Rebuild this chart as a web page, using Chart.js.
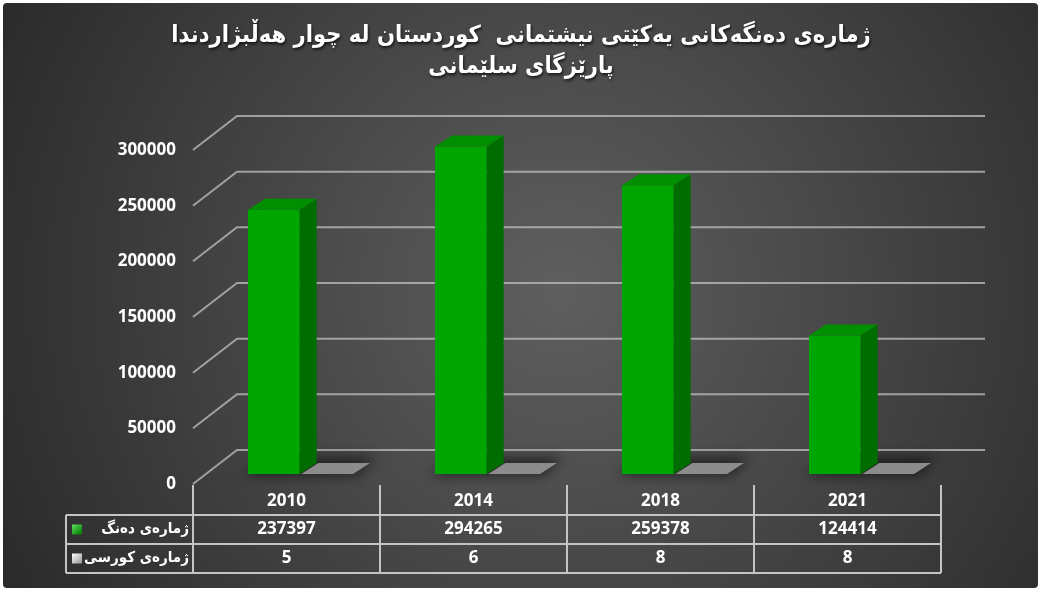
<!DOCTYPE html>
<html>
<head>
<meta charset="utf-8">
<script src="https://cdn.jsdelivr.net/npm/chart.js@4.4.1/dist/chart.umd.min.js"></script>
<style>
  html, body { margin: 0; padding: 0; background: #fff; }
  #wrap { width: 1042px; height: 592px; }
</style>
</head>
<body>
<div id="wrap"><canvas id="c" width="1042" height="592"></canvas></div>
<script>
// ── Data ─────────────────────────────────────────────────────
const titleLines  = ['ژمارەی دەنگەکانی یەکێتی نیشتمانی  کوردستان لە چوار هەڵبژاردندا', 'پارێزگای سلێمانی'];
const years       = ['2010', '2014', '2018', '2021'];
const votes       = [237397, 294265, 259378, 124414];
const seats       = [5, 6, 8, 8];
const seriesNames = ['ژمارەی دەنگ', 'ژمارەی کورسی'];
const yTicks      = [0, 50000, 100000, 150000, 200000, 250000, 300000];

// ── 3D look ──────────────────────────────────────────────────
const FRONT = { dx: -14, dy: 10 };   // bar plane -> front plane
const BACK  = { dx: 30,  dy: -24 };  // bar plane -> back wall
const DEPTH = { dx: 17,  dy: -11 };  // bar extrusion
const GRID  = 'rgba(185,185,185,0.8)';
const NUM_FONT = 'bold 17px "Open Sans", sans-serif';
const AR_FONT  = 'bold 15px "DejaVu Sans Condensed", "DejaVu Sans", sans-serif';

const faces = [
  { side: '#006d00', top: '#008f00' },
  { side: '#6e6e6e', top: '#8c8c8c' },
];

function poly(ctx, pts, fill) {
  ctx.beginPath();
  ctx.moveTo(pts[0][0], pts[0][1]);
  for (let i = 1; i < pts.length; i++) ctx.lineTo(pts[i][0], pts[i][1]);
  ctx.closePath();
  ctx.fillStyle = fill;
  ctx.fill();
}

const scene = {
  id: 'scene',
  beforeDraw(chart) {
    const { ctx, width, height, chartArea: a } = chart;
    const y = chart.scales.y;
    ctx.save();
    ctx.fillStyle = '#fff';
    ctx.fillRect(0, 0, width, height);
    const g = ctx.createRadialGradient(560, 290, 0, 560, 290, 620);
    g.addColorStop(0, '#5f5f5f');
    g.addColorStop(1, '#2b2b2b');
    ctx.fillStyle = g;
    ctx.beginPath();
    ctx.roundRect(3, 3, width - 7, height - 7, 4);
    ctx.fill();

    // walls: gridlines on the back wall, slanted on the side
    ctx.strokeStyle = GRID;
    ctx.lineWidth = 2;
    ctx.fillStyle = '#fff';
    ctx.font = NUM_FONT;
    ctx.textAlign = 'right';
    ctx.textBaseline = 'middle';
    yTicks.forEach(v => {
      const py = y.getPixelForValue(v);
      ctx.beginPath();
      ctx.moveTo(a.left + FRONT.dx, py + FRONT.dy);
      ctx.lineTo(a.left + BACK.dx, py + BACK.dy);
      ctx.lineTo(a.right + BACK.dx, py + BACK.dy);
      ctx.stroke();
      ctx.fillText(String(v), 176, py + FRONT.dy);
    });

    // title
    ctx.fillStyle = '#fff';
    ctx.font = 'bold 23.5px "DejaVu Sans Condensed", "DejaVu Sans", sans-serif';
    ctx.textAlign = 'center';
    ctx.shadowColor = 'rgba(0,0,0,0.7)';
    ctx.shadowOffsetX = 1;
    ctx.shadowOffsetY = 2;
    ctx.shadowBlur = 3;
    ctx.fillText(titleLines[0], 521, 36);
    ctx.fillText(titleLines[1], 521, 67);
    ctx.restore();
  },

  beforeDatasetsDraw(chart) {
    // soft floor shadows behind each bar group
    const { ctx } = chart;
    ctx.save();
    ctx.filter = 'blur(6px)';
    const m0 = chart.getDatasetMeta(0).data, m1 = chart.getDatasetMeta(1).data;
    m0.forEach((b, i) => {
      const p = b.getProps(['x', 'base', 'width'], true);
      const q = m1[i].getProps(['x', 'width'], true);
      const l = p.x - p.width / 2, r = q.x + q.width / 2;
      poly(ctx, [[l - 4, p.base + 2], [l + DEPTH.dx, p.base + DEPTH.dy - 6],
                 [r + DEPTH.dx + 6, p.base + DEPTH.dy - 6], [r + 4, p.base + 2]], 'rgba(0,0,0,0.5)');
    });
    ctx.restore();
  },

  afterDatasetsDraw(chart) {
    const { ctx } = chart;
    ctx.save();
    chart.data.datasets.forEach((ds, di) => {
      chart.getDatasetMeta(di).data.forEach(bar => {
        const { x, y, base, width } = bar.getProps(['x', 'y', 'base', 'width'], true);
        const l = x - width / 2, r = x + width / 2;
        poly(ctx, [[r, y], [r + DEPTH.dx, y + DEPTH.dy], [r + DEPTH.dx, base + DEPTH.dy], [r, base]], faces[di].side);
        poly(ctx, [[l, y], [l + DEPTH.dx, y + DEPTH.dy], [r + DEPTH.dx, y + DEPTH.dy], [r, y]], faces[di].top);
      });
    });
    ctx.restore();
  },

  afterDraw(chart) {
    const { ctx, chartArea: a } = chart;
    const y0 = chart.scales.y.getPixelForValue(0) + FRONT.dy;   // front floor edge
    const n = years.length;
    const colW = (a.right - a.left) / n;
    const xs = [];
    for (let i = 0; i <= n; i++) xs.push(a.left + FRONT.dx + i * colW);
    const rows = [y0, y0 + 31, y0 + 60, y0 + 89];
    const labelLeft = 66;

    ctx.save();
    ctx.strokeStyle = '#c4c4c4';
    ctx.lineWidth = 2;
    ctx.beginPath();
    xs.forEach(x => { ctx.moveTo(x, y0 + 1); ctx.lineTo(x, rows[3]); });
    for (let r = 1; r <= 3; r++) { ctx.moveTo(labelLeft, rows[r]); ctx.lineTo(xs[n], rows[r]); }
    ctx.moveTo(labelLeft, rows[1]); ctx.lineTo(labelLeft, rows[3]);
    ctx.stroke();

    ctx.fillStyle = '#fff';
    ctx.textBaseline = 'middle';
    ctx.textAlign = 'center';
    ctx.font = NUM_FONT;
    const tableRows = [years, votes, seats];
    tableRows.forEach((vals, r) => {
      const cy = (rows[r] + rows[r + 1]) / 2 + (r === 0 ? 2 : 0);
      vals.forEach((v, i) => ctx.fillText(String(v), (xs[i] + xs[i + 1]) / 2, cy));
    });

    // row labels + legend keys
    ctx.textAlign = 'right';
    ctx.font = AR_FONT;
    seriesNames.forEach((name, r) => {
      const cy = (rows[r + 1] + rows[r + 2]) / 2;
      ctx.fillStyle = '#fff';
      ctx.fillText(name, xs[0] - 4, cy);
      const g = ctx.createLinearGradient(72, cy - 5, 81, cy + 5);
      if (r === 0) { g.addColorStop(0, '#5fe05f'); g.addColorStop(1, '#007a00'); }
      else { g.addColorStop(0, '#ffffff'); g.addColorStop(1, '#9a9a9a'); }
      ctx.fillStyle = g;
      ctx.fillRect(72, cy - 5, 10, 10);
    });
    ctx.restore();
  },
};

new Chart(document.getElementById('c'), {
  type: 'bar',
  data: {
    labels: years,
    datasets: [
      { label: seriesNames[0], data: votes, backgroundColor: '#00a600', borderWidth: 0 },
      { label: seriesNames[1], data: seats, backgroundColor: '#8c8c8c', borderWidth: 0 },
    ],
  },
  options: {
    responsive: false,
    animation: false,
    devicePixelRatio: 1,
    layout: { padding: { left: 207, right: 87, top: 140, bottom: 118 } },
    datasets: { bar: { categoryPercentage: 0.57, barPercentage: 0.97 } },
    plugins: { legend: { display: false }, tooltip: { enabled: false }, title: { display: false } },
    scales: {
      x: { display: false },
      y: { display: false, min: 0, max: 300000 },
    },
  },
  plugins: [scene],
});
</script>
</body>
</html>
